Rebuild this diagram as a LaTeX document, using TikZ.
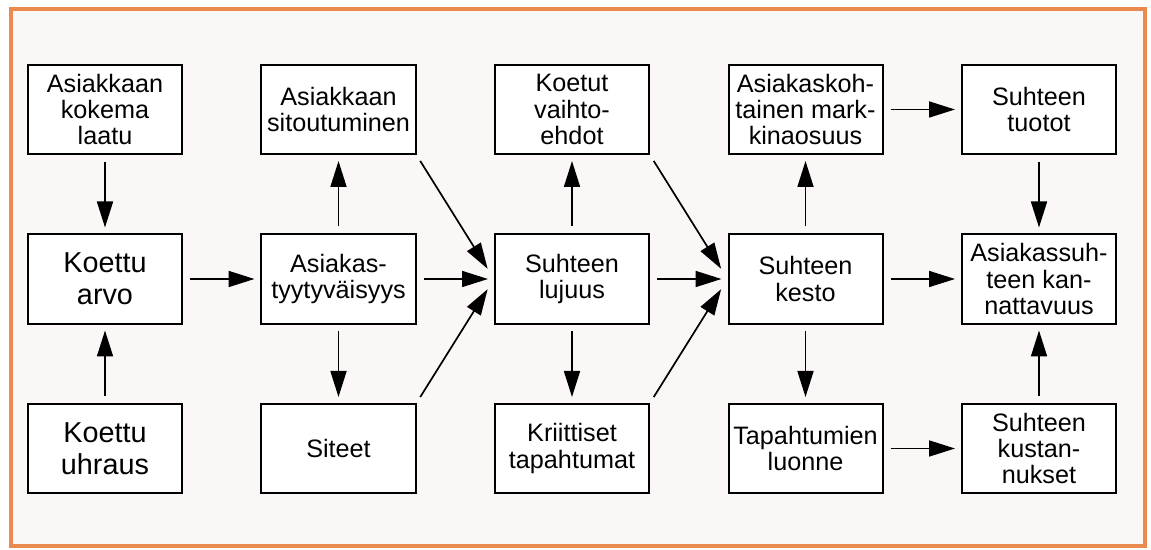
\documentclass[tikz,border=0pt]{standalone}
\usepackage{fontspec}
\setmainfont{Liberation Sans}
\usetikzlibrary{arrows.meta}
\definecolor{frame}{RGB}{234,138,78}
\definecolor{paper}{RGB}{252,247,247}

\begin{document}
\begin{tikzpicture}[
   x=0.5pt,y=-0.5pt,
   font=\fontsize{12.6}{13.2}\selectfont,
   every matrix/.style={ampersand replacement=\&,column sep=38.75pt,row sep=39.25pt},
   box/.style={draw,line width=1pt,fill=white,minimum width=77pt,minimum height=44.5pt,inner sep=1pt,align=center},
   big/.style={box,font=\fontsize{14.4}{16}\selectfont},
   to/.style={-{Triangle[length=13pt,width=8pt]},line width=0.85pt,shorten >=3pt,shorten <=3.5pt},
   slant/.style={to,shorten >=6pt}]
\fill[white] (0,0) rectangle (1151,550);
\draw[frame,line width=1.75pt,fill=paper] (11,9) rectangle (1145,546);
\matrix at (572,279) {
\node[box] (laatu) {Asiakkaan\\kokema\\laatu};\&\node[box] (sitou) {Asiakkaan\\sitoutuminen};\&\node[box] (vaihto) {Koetut\\vaihto-\\ehdot};\&\node[box] (osuus) {Asiakaskoh-\\tainen mark-\\kinaosuus};\&\node[box] (tuotot) {Suhteen\\tuotot};\\
\node[big] (arvo) {Koettu\\arvo};\&\node[box] (tyyt) {Asiakas-\\tyytyväisyys};\&\node[box] (lujuus) {Suhteen\\lujuus};\&\node[box] (kesto) {Suhteen\\kesto};\&\node[box] (kannatt) {Asiakassuh-\\teen kan-\\nattavuus};\\
\node[big] (uhraus) {Koettu\\uhraus};\&\node[box] (siteet) {Siteet};\&\node[box] (kriitt) {Kriittiset\\tapahtumat};\&\node[box] (luonne) {Tapahtumien\\luonne};\&\node[box] (kust) {Suhteen\\kustan-\\nukset};\\
};
\draw[to]  (laatu) -- (arvo);
\draw[to]  (uhraus) -- (arvo);
\draw[to]  (arvo) -- (tyyt);
\draw[to]  (tyyt) -- (sitou);
\draw[to]  (tyyt) -- (siteet);
\draw[slant]  (sitou.south east) -- (lujuus.west);
\draw[to]  (tyyt) -- (lujuus);
\draw[slant]  (siteet.north east) -- (lujuus.west);
\draw[to]  (lujuus) -- (vaihto);
\draw[to]  (lujuus) -- (kriitt);
\draw[slant]  (vaihto.south east) -- (kesto.west);
\draw[to]  (lujuus) -- (kesto);
\draw[slant]  (kriitt.north east) -- (kesto.west);
\draw[to]  (kesto) -- (osuus);
\draw[to]  (kesto) -- (luonne);
\draw[to]  (osuus) -- (tuotot);
\draw[to]  (kesto) -- (kannatt);
\draw[to]  (luonne) -- (kust);
\draw[to]  (tuotot) -- (kannatt);
\draw[to]  (kust) -- (kannatt);
\end{tikzpicture}
\end{document}
